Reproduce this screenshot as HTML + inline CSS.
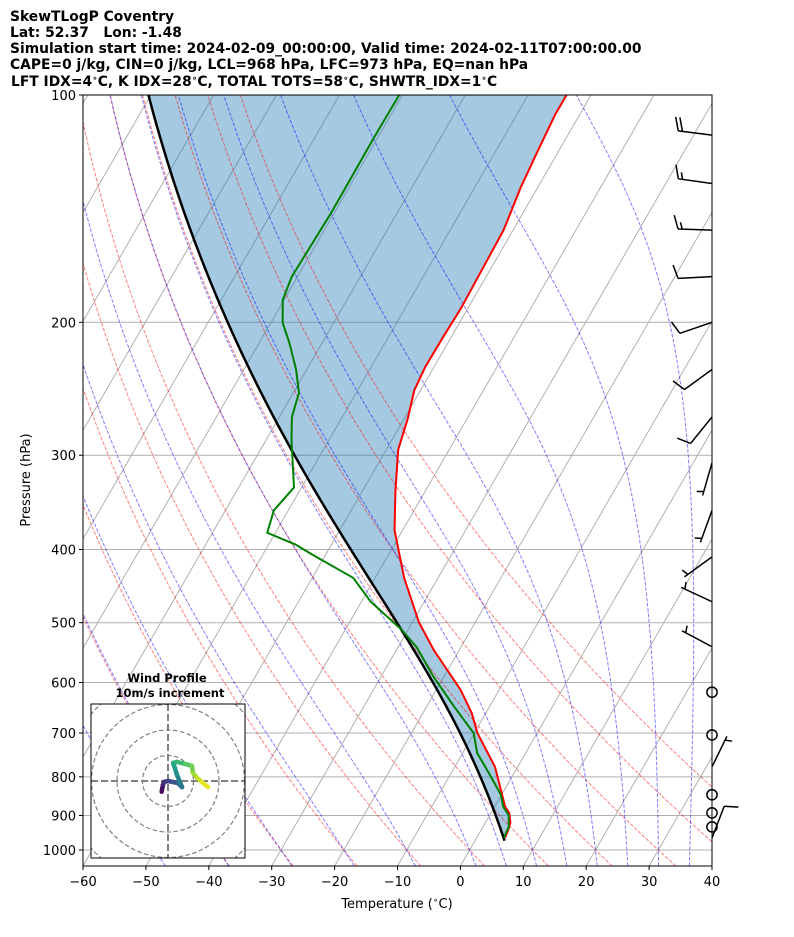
<!DOCTYPE html>
<html><head><meta charset="utf-8"><style>
html,body{margin:0;padding:0;background:#fff;}
svg{display:block;font-family:"DejaVu Sans","Liberation Sans",sans-serif;}
</style></head><body>
<svg id="chart" width="794" height="937" viewBox="0 0 794 937" xmlns="http://www.w3.org/2000/svg">
<g font-weight="bold" font-size="13.85" fill="#000">
<text x="10" y="21">SkewTLogP Coventry</text>
<text x="10" y="37" xml:space="preserve">Lat: 52.37   Lon: -1.48</text>
<text x="10" y="53">Simulation start time: 2024-02-09_00:00:00, Valid time: 2024-02-11T07:00:00.00</text>
<text x="10" y="69">CAPE=0 j/kg, CIN=0 j/kg, LCL=968 hPa, LFC=973 hPa, EQ=nan hPa</text>
<text x="11" y="86">LFT IDX=4<tspan font-size="9" dy="-5">∘</tspan><tspan dy="5">C, K IDX=28</tspan><tspan font-size="9" dy="-5">∘</tspan><tspan dy="5">C, TOTAL TOTS=58</tspan><tspan font-size="9" dy="-5">∘</tspan><tspan dy="5">C, SHWTR_IDX=1</tspan><tspan font-size="9" dy="-5">∘</tspan><tspan dy="5">C</tspan></text>
</g>
<defs><clipPath id="plotclip"><rect x="83" y="95" width="629" height="771"/></clipPath>
<clipPath id="hodoclip"><rect x="91" y="704" width="154" height="154"/></clipPath></defs>
<g id="plot" clip-path="url(#plotclip)"></g>
<g id="barbs"></g>
<g id="hodo"></g>
<rect x="83" y="95" width="629" height="771" fill="none" stroke="#000" stroke-width="1"/>
<g id="axes" font-size="13" fill="#000"></g>
<text x="397" y="908" text-anchor="middle" font-size="13">Temperature (<tspan font-size="9" dy="-5">∘</tspan><tspan dy="5">C)</tspan></text>
<text transform="translate(30,480) rotate(-90)" text-anchor="middle" font-size="13">Pressure (hPa)</text>
</svg>
<script>
// ---- data ----
const tempP = [963,941,921,893,877,851,776,700,659,614,543,499,436,377,334,295,269,246,229,209,191,170.5,151,132.4,119.3,106.3,100];
const tempT = [4.5,4.3,4.0,2.9,1.7,0.4,-3.6,-9.5,-12.2,-16.1,-24.1,-29.0,-35.4,-41.3,-44.8,-48.1,-49.4,-51.0,-51.4,-51.3,-51.1,-51.3,-51.5,-52.7,-53.3,-53.9,-53.9];
const dewP = [964,950,932,899,877,845,791,744,700,647,590,539,511,469,436,407,394,380,355,331,286,267,248,231,213,200.4,186.9,174.2,143.3,113.7,100];
const dewT = [4.4,4.2,4.1,3.0,1.4,-0.1,-4.0,-7.7,-10.1,-15.5,-21.6,-27.0,-31.0,-38.5,-43.5,-51.9,-55.7,-61.3,-62.3,-61.2,-66.0,-68.0,-69.1,-71.7,-75.2,-78.1,-80.2,-80.9,-80.5,-80.6,-80.5];
const parcelStartP = 972;
const parcelStartT = 4.7;
const barbP = [113,131,151,174,200,231,267,307,355,409,469,538,618,704,776,845,893,932,964];
const barbDir = [277,278,272,267,251,234,219,196,200,234,295,298,0,0,26,0,0,0,21];
const barbSpd = [20,15,15,10,10,10,10,5,5,5,5,5,0,0,5,0,0,0,10];
const hodoU = [-2.5,-2.0,-1.6,0,2.0,3.9,5.5,4.7,3.5,2.7,2.0,3.5,6.7,9.4,9.8,11.4,13.3,15.7];
const hodoV = [-4.2,-1.6,-0.4,0,-0.4,-0.8,-2.4,-0.4,2.4,5.1,7.1,7.5,6.7,5.9,3.1,1.2,-0.4,-2.4];
const xTicks = [-60,-50,-40,-30,-20,-10,0,10,20,30,40];
const yTicks = [100,200,300,400,500,600,700,800,900,1000];
const dryT0 = [-40,-30,-20,-10,0,10,20,30,40,50];
const moistT0 = [-50,-40,-30,-20,-10,0,5,10,15,20,25,30,35,40];
const isoT = [-160,-150,-140,-130,-120,-110,-100,-90,-80,-70,-60,-50,-40,-30,-20,-10,0,10,20,30,40];

// ---- axis functions ----
const L0=83,B0=866,W=629,H=771,PB=1050,PT=100,SK=Math.tan(Math.PI/6);
function yOf(p){return B0-H*Math.log(PB/p)/Math.log(PB/PT);}
function xOf(T,p){return L0+(T+60)*W/100+SK*(B0-yOf(p));}
const NS="http://www.w3.org/2000/svg";
function mk(tag,attrs,parent){const e=document.createElementNS(NS,tag);for(const k in attrs)e.setAttribute(k,attrs[k]);parent.appendChild(e);return e;}
function pathD(Ts,Ps){return Ts.map((t,i)=>(i?'L':'M')+xOf(t,Ps[i]).toFixed(2)+','+yOf(Ps[i]).toFixed(2)).join('');}
const plot=document.getElementById('plot');

// moist adiabat
const Rd=287.04,Cp=1004.67,Lv=2.501e6,EPS=0.622;
function dTdp(p,T){const Tc=T-273.15;const es=6.112*Math.exp(17.67*Tc/(Tc+243.5));const rs=EPS*es/(p-es);
 return (1/p)*(Rd*T+Lv*rs)/(Cp+Lv*Lv*rs*EPS/(Rd*T*T));}
function moist(T0c,p0,pEnd){let T=T0c+273.15,p=p0;const h=(pEnd<p0?-2:2);const Ts=[T0c],Ps=[p0];
 while((h<0&&p+h>=pEnd-1e-9)||(h>0&&p+h<=pEnd+1e-9)){const k1=dTdp(p,T),k2=dTdp(p+h/2,T+h/2*k1),k3=dTdp(p+h/2,T+h/2*k2),k4=dTdp(p+h,T+h*k3);
  T+=h/6*(k1+2*k2+2*k3+k4);p+=h;Ts.push(T-273.15);Ps.push(p);}return [Ts,Ps];}

// isotherms
isoT.forEach(t=>{const l=mk('line',{x1:xOf(t,PB),y1:yOf(PB),x2:xOf(t,PT),y2:yOf(PT),stroke:'#b0b0b0','stroke-width':1},plot);
 
 });
// isobars
yTicks.forEach(p=>{const l=mk('line',{x1:L0,y1:yOf(p),x2:L0+W,y2:yOf(p),stroke:'#b0b0b0','stroke-width':1},plot);
 
 });

// parcel
const up=moist(parcelStartT,parcelStartP,100);
const parT=up[0],parP=up[1];
function interpParcel(p){for(let i=1;i<parP.length;i++){if(parP[i]<=p){const f=(Math.log(p)-Math.log(parP[i-1]))/(Math.log(parP[i])-Math.log(parP[i-1]));return parT[i-1]+f*(parT[i]-parT[i-1]);}}return parT[parT.length-1];}
// shading
{const fx=[],fp=[];tempP.forEach((p,i)=>{if(p<=parcelStartP){fx.push(tempT[i]);fp.push(p);}});
 let d=pathD(fx,fp);for(let i=fp.length-1;i>=0;i--){d+='L'+xOf(interpParcel(fp[i]),fp[i]).toFixed(2)+','+yOf(fp[i]).toFixed(2);}d+='Z';
 const s=mk('path',{d:d,fill:'#1f77b4','fill-opacity':0.4,stroke:'none'},plot);
 
 }

// dry adiabats
dryT0.forEach(t0=>{const Ts=[],Ps=[];for(let p=PB;p>=PT-0.01;p-=10){Ps.push(p);Ts.push((t0+273.15)*Math.pow(p/1000,Rd/Cp)-273.15);}
 const e=mk('path',{d:pathD(Ts,Ps),fill:'none',stroke:'red','stroke-opacity':0.5,'stroke-width':1,'stroke-dasharray':'3.7 1.6'},plot);
 
 });
// moist adiabats
moistT0.forEach(t0=>{const a=moist(t0,1000,100),b=moist(t0,1000,1050);
 const Ts=b[0].slice().reverse().concat(a[0].slice(1)),Ps=b[1].slice().reverse().concat(a[1].slice(1));
 const e=mk('path',{d:pathD(Ts,Ps),fill:'none',stroke:'blue','stroke-opacity':0.5,'stroke-width':1,'stroke-dasharray':'3.7 1.6'},plot);
 
 });

// series
{const e=mk('path',{d:pathD(parT,parP),fill:'none',stroke:'#000','stroke-width':2.5},plot);
 
 }
{const e=mk('path',{d:pathD(tempT,tempP),fill:'none',stroke:'red','stroke-width':2,'stroke-linejoin':'round'},plot);
 
 }
{const e=mk('path',{d:pathD(dewT,dewP),fill:'none',stroke:'green','stroke-width':2,'stroke-linejoin':'round'},plot);
 
 }

// barbs
const bg=document.getElementById('barbs');const BL=34;
barbP.forEach((p,i)=>{const bx=L0+W,by=yOf(p);const spd=barbSpd[i];
 if(spd<2.5){const c=mk('circle',{cx:bx,cy:by,r:0.15*BL,fill:'none',stroke:'#000','stroke-width':1.5},bg);
  
  return;}
 const a=barbDir[i]*Math.PI/180;const sx=Math.sin(a),sy=-Math.cos(a);const nx=-sy,ny=sx;
 const tx=bx+sx*BL,ty=by+sy*BL;let d='M'+bx+','+by+'L'+tx+','+ty;
 let r=Math.round(spd/5)*5;let full=Math.floor(r/10),half=(r%10)>=5?1:0;let pos=0;
 for(let k=0;k<full;k++){const px=tx-sx*pos*BL,py=ty-sy*pos*BL;d+='M'+px+','+py+'L'+(px+nx*0.4*BL+sx*0.125*BL)+','+(py+ny*0.4*BL+sy*0.125*BL);pos+=0.125;}
 if(half){if(full===0)pos=0.125;const px=tx-sx*pos*BL,py=ty-sy*pos*BL;d+='M'+px+','+py+'L'+(px+nx*0.2*BL+sx*0.0625*BL)+','+(py+ny*0.2*BL+sy*0.0625*BL);}
 const e=mk('path',{d:d,fill:'none',stroke:'#000','stroke-width':1.5},bg);
 
 });

// axes ticks
const ax=document.getElementById('axes');
xTicks.forEach(t=>{const x=L0+(t+60)*W/100;mk('line',{x1:x,y1:B0,x2:x,y2:B0+4,stroke:'#000','stroke-width':1},ax);
 const tx=mk('text',{x:x,y:B0+20,'text-anchor':'middle'},ax);tx.textContent=(t<0?'−':'')+Math.abs(t);
 
 });
yTicks.forEach(p=>{const y=yOf(p);mk('line',{x1:L0-4,y1:y,x2:L0,y2:y,stroke:'#000','stroke-width':1},ax);
 const tx=mk('text',{x:L0-7,y:y+5,'text-anchor':'end'},ax);tx.textContent=p;
 
 });

// hodograph
const hg=document.getElementById('hodo');const HX=168,HY=781,HS=2.55;
mk('rect',{x:91,y:704,width:154,height:154,fill:'#fff',stroke:'none'},hg);
const hc=mk('g',{'clip-path':'url(#hodoclip)'},hg);
[10,20,30,40].forEach(r=>{const c=mk('circle',{cx:HX,cy:HY,r:r*HS,fill:'none',stroke:'#808080','stroke-width':1.2,'stroke-dasharray':'4.5 2.5'},hc);
 
 });
mk('line',{x1:91,y1:HY,x2:245,y2:HY,stroke:'#808080','stroke-width':2,'stroke-dasharray':'7 3'},hc);
mk('line',{x1:HX,y1:704,x2:HX,y2:858,stroke:'#808080','stroke-width':2,'stroke-dasharray':'7 3'},hc);
const vir=['#440154','#482878','#3e4989','#31688e','#26828e','#1f9e89','#35b779','#6ece58','#b5de2b','#fde725'];
function cmap(f){const s=f*(vir.length-1);const i=Math.min(Math.floor(s),vir.length-2);const g=s-i;
 const a=vir[i],b=vir[i+1];const c=k=>Math.round(parseInt(a.substr(k,2),16)*(1-g)+parseInt(b.substr(k,2),16)*g);return 'rgb('+c(1)+','+c(3)+','+c(5)+')';}
for(let i=1;i<hodoU.length;i++){const l=mk('line',{x1:HX+hodoU[i-1]*HS,y1:HY-hodoV[i-1]*HS,x2:HX+hodoU[i]*HS,y2:HY-hodoV[i]*HS,stroke:cmap((i-0.5)/(hodoU.length-1)),'stroke-width':4.5,'stroke-linecap':'round'},hc);
 
 }
mk('rect',{x:91,y:704,width:154,height:154,fill:'none',stroke:'#000','stroke-width':1},hg);
{const t=mk('text',{x:167,y:682,'text-anchor':'middle','font-weight':'bold','font-size':11.5},hg);t.textContent='Wind Profile';
 
 
 const t2=mk('text',{x:170,y:697,'text-anchor':'middle','font-weight':'bold','font-size':11.5},hg);t2.textContent='10m/s increment';
 
 }
</script>
</body></html>
